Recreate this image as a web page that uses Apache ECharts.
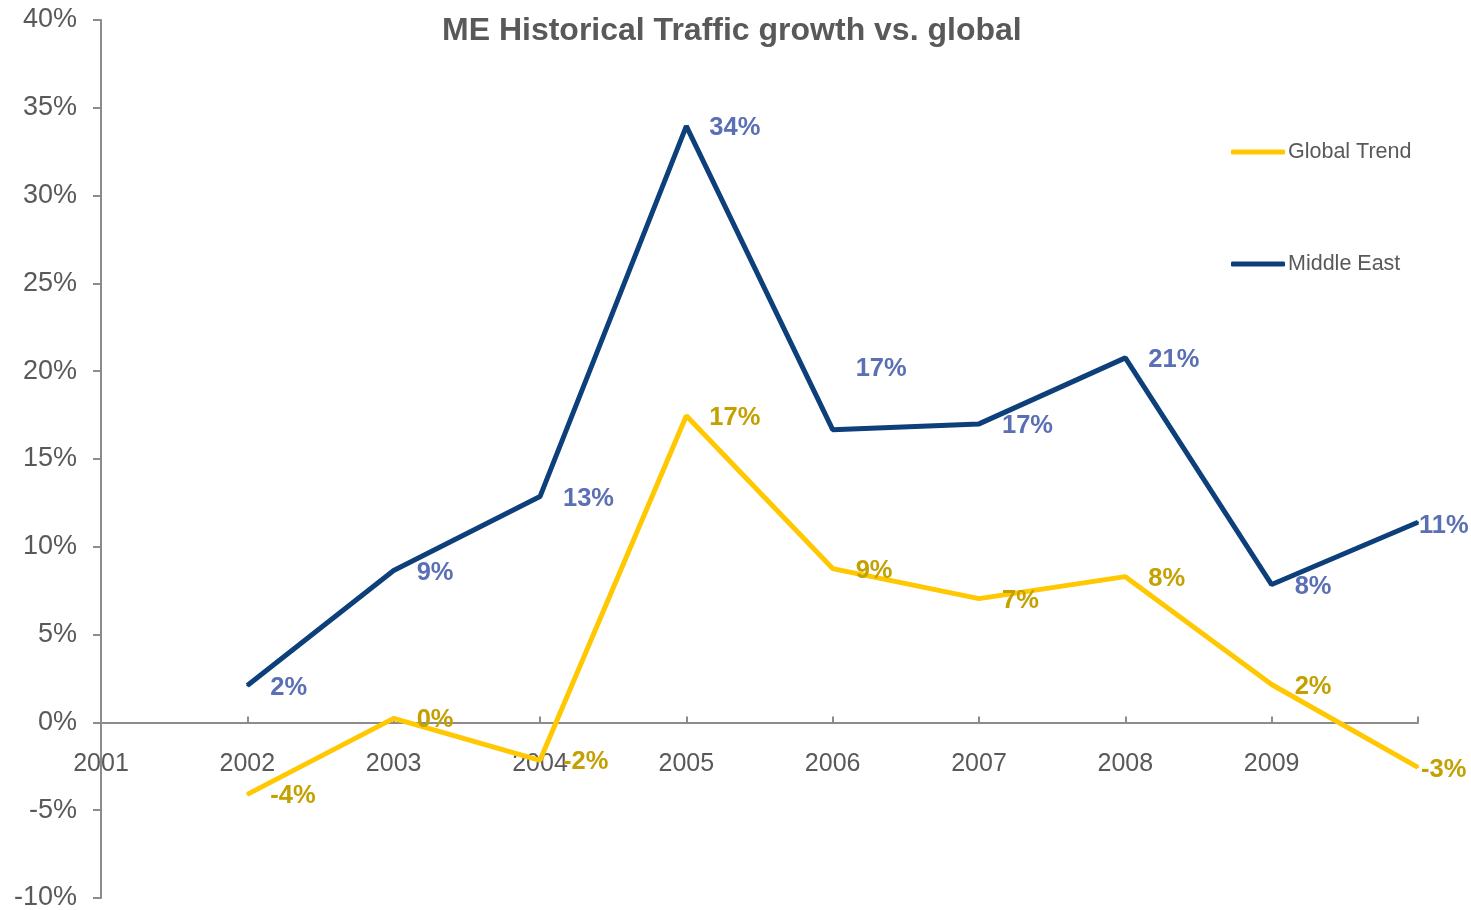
<!DOCTYPE html>
<html>
<head>
<meta charset="utf-8">
<script src="https://cdn.jsdelivr.net/npm/echarts@6/dist/echarts.min.js"></script>
<style>html,body{margin:0;padding:0;background:#fff;}#c{width:1471px;height:910px;}</style>
</head>
<body>
<div id="c"></div>
<script>
// Axis categories (tick labels); the last tick is unlabelled
var categories = ['2001', '2002', '2003', '2004', '2005', '2006', '2007', '2008', '2009', ''];
// Growth values in % (first category has no data)
var globalTrend = [null, -4.1, 0.23, -2.16, 17.46, 8.76, 7.05, 8.3, 2.16, -2.56];
var middleEast  = [null, 2.1, 8.65, 12.86, 33.96, 16.67, 17.0, 20.76, 7.85, 11.4];
var yTicks = { min: -10, max: 40, interval: 5 };

var textGray = '#595959';
var axisGray = '#8c8c8c';
var font = 'Liberation Sans, Arial, sans-serif';

var gridTop = 20, gridBottom = 12, chartH = 910;
var plotH = chartH - gridTop - gridBottom;
// distance from the bottom of the plot to the zero line
var zeroFromBottom = plotH * (0 - yTicks.min) / (yTicks.max - yTicks.min);

function items(arr, offsets) {
  return arr.map(function (v, i) {
    if (v === null) return '-';
    var o = { value: v };
    if (offsets[i]) o.label = { offset: offsets[i] };
    return o;
  });
}

var chart = echarts.init(document.getElementById('c'));
chart.setOption({
  animation: false,
  textStyle: { fontFamily: font },
  title: {
    text: 'ME Historical Traffic growth vs. global',
    left: 437, top: 10,
    textStyle: { color: textGray, fontSize: 32, fontWeight: 'bold', fontFamily: font }
  },
  legend: {
    orient: 'vertical',
    left: 1226, top: 135,
    itemWidth: 54, itemHeight: 5, itemGap: 88,
    icon: 'roundRect',
    textStyle: { color: textGray, fontSize: 21.5, fontFamily: font, lineHeight: 24, padding: [0, 0, 0, -2] },
    data: ['Global Trend', 'Middle East']
  },
  grid: { left: 101, right: 53, top: gridTop, bottom: gridBottom, containLabel: false, outerBoundsMode: 'none' },
  xAxis: {
    type: 'category',
    data: categories,
    boundaryGap: false,
    offset: -zeroFromBottom,
    axisLine: { onZero: false, lineStyle: { color: axisGray, width: 2 } },
    axisTick: { inside: true, length: 6, alignWithLabel: true, lineStyle: { color: axisGray, width: 2 } },
    axisLabel: { color: textGray, fontSize: 25, margin: 29, fontFamily: font, interval: 0 },
    splitLine: { show: false }
  },
  yAxis: {
    type: 'value',
    min: yTicks.min, max: yTicks.max, interval: yTicks.interval,
    axisLine: { show: true, lineStyle: { color: axisGray, width: 2 } },
    axisTick: { show: true, length: 8, lineStyle: { color: axisGray, width: 2 } },
    axisLabel: { color: textGray, fontSize: 27, margin: 24, fontFamily: font, formatter: '{value}%' },
    splitLine: { show: false }
  },
  series: [
    {
      name: 'Middle East', type: 'line',
      data: items(middleEast, { 5: [0, -61], 9: [-22, 4] }),
      symbol: 'circle', symbolSize: 2, showSymbol: true,
      itemStyle: { color: '#0d3f7a' },
      lineStyle: { color: '#0d3f7a', width: 5 },
      label: {
        show: true, position: 'right', distance: 22, offset: [0, 2],
        color: '#5a6fb4', fontSize: 25.5, fontWeight: 'bold', fontFamily: font,
        formatter: function (p) { return Math.round(p.value) + '%'; }
      },
      z: 2
    },
    {
      name: 'Global Trend', type: 'line',
      data: items(globalTrend, { 9: [-20, 3] }),
      symbol: 'circle', symbolSize: 2, showSymbol: true,
      itemStyle: { color: '#ffc800' },
      lineStyle: { color: '#ffc800', width: 5 },
      label: {
        show: true, position: 'right', distance: 22, offset: [0, 2],
        color: '#c4a000', fontSize: 25.5, fontWeight: 'bold', fontFamily: font,
        formatter: function (p) { return Math.round(p.value) + '%'; }
      },
      z: 3
    }
  ]
});
</script>
</body>
</html>
